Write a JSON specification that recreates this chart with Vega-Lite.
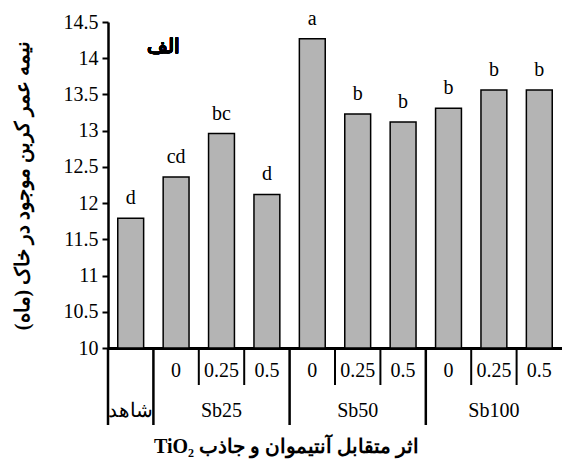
{
  "$schema": "https://vega.github.io/schema/vega-lite/v6.json",
  "autosize": {"type": "none"},
  "padding": {"left": 108, "top": 22, "right": 0, "bottom": 117},
  "width": 454,
  "height": 326,
  "background": "white",
  "config": {
    "view": {"stroke": null},
    "font": "Liberation Serif",
    "axis": {"labelFont": "Liberation Serif", "labelFontSize": 20, "labelColor": "black", "titleFont": "Liberation Serif", "titleColor": "black", "labelOverlap": false}
  },
  "data": {"values": [
    {"id": "control", "value": 11.79, "letter": "d"},
    {"id": "Sb25-0", "value": 12.36, "letter": "cd"},
    {"id": "Sb25-0.25", "value": 12.96, "letter": "bc"},
    {"id": "Sb25-0.5", "value": 12.12, "letter": "d"},
    {"id": "Sb50-0", "value": 14.27, "letter": "a"},
    {"id": "Sb50-0.25", "value": 13.23, "letter": "b"},
    {"id": "Sb50-0.5", "value": 13.12, "letter": "b"},
    {"id": "Sb100-0", "value": 13.31, "letter": "b"},
    {"id": "Sb100-0.25", "value": 13.56, "letter": "b"},
    {"id": "Sb100-0.5", "value": 13.56, "letter": "b"}
  ]},
  "encoding": {
    "x": {
      "field": "id", "type": "nominal", "sort": null,
      "scale": {"paddingInner": 0.43, "paddingOuter": 0.215},
      "axis": {
        "title": "TiO₂ اثر متقابل آنتیموان و جاذب",
        "titleFontSize": 20,
        "titleFontWeight": "bold",
        "titlePadding": 16,
        "titleX": 178,
        "labelAngle": 0,
        "labelBaseline": "top",
        "labelLineHeight": 40,
        "labelPadding": 12,
        "labelExpr": "datum.value == 'control' ? [' ', 'شاهد'] : (split(datum.value, '-')[1] == '0.25' ? ['0.25', split(datum.value, '-')[0]] : split(datum.value, '-')[1])",
        "domainColor": "black",
        "domainWidth": 3,
        "ticks": false
      }
    },
    "y": {
      "field": "value", "type": "quantitative",
      "scale": {"domain": [10, 14.5], "zero": false, "nice": false},
      "axis": {
        "title": "نیمه عمر کربن موجود در خاک (ماه)‏",
        "titleFontSize": 20,
        "titleFontWeight": "bold",
        "titlePadding": 31,
        "values": [10, 10.5, 11, 11.5, 12, 12.5, 13, 13.5, 14, 14.5],
        "format": "~g",
        "labelOverlap": false,
        "labelPadding": 4,
        "grid": false,
        "domainColor": "black",
        "domainWidth": 2.5,
        "tickColor": "black",
        "tickWidth": 2,
        "tickSize": 6
      }
    }
  },
  "layer": [
    {
      "mark": {"type": "bar", "fill": "#b4b4b4", "stroke": "black", "strokeWidth": 1.5},
      "encoding": {
        "y2": {"datum": 10}
      }
    },
    {
      "transform": [{"filter": "indexof(['control', 'Sb25-0', 'Sb50-0', 'Sb100-0'], datum.id) >= 0"}],
      "mark": {"type": "rule", "color": "black", "strokeWidth": 2.5},
      "encoding": {
        "x": {"field": "id", "type": "nominal", "sort": null, "bandPosition": -0.377},
        "y": {"datum": 10},
        "y2": {"datum": 8.937}
      }
    },
    {
      "transform": [{"filter": "indexof(['control', 'Sb25-0', 'Sb50-0', 'Sb100-0'], datum.id) < 0"}],
      "mark": {"type": "rule", "color": "black", "strokeWidth": 2},
      "encoding": {
        "x": {"field": "id", "type": "nominal", "sort": null, "bandPosition": -0.377},
        "y": {"datum": 10},
        "y2": {"datum": 9.489}
      }
    },
    {
      "mark": {"type": "text", "font": "Liberation Serif", "fontSize": 20, "color": "black", "baseline": "alphabetic", "dy": -14},
      "encoding": {
        "text": {"field": "letter"}
      }
    },
    {
      "mark": {"type": "text", "font": "Liberation Serif", "fontSize": 20, "fontWeight": "bold", "color": "black"},
      "encoding": {
        "x": {"datum": "Sb25-0", "bandPosition": 0},
        "y": {"datum": 14.15},
        "text": {"value": "الف"}
      }
    }
  ]
}
